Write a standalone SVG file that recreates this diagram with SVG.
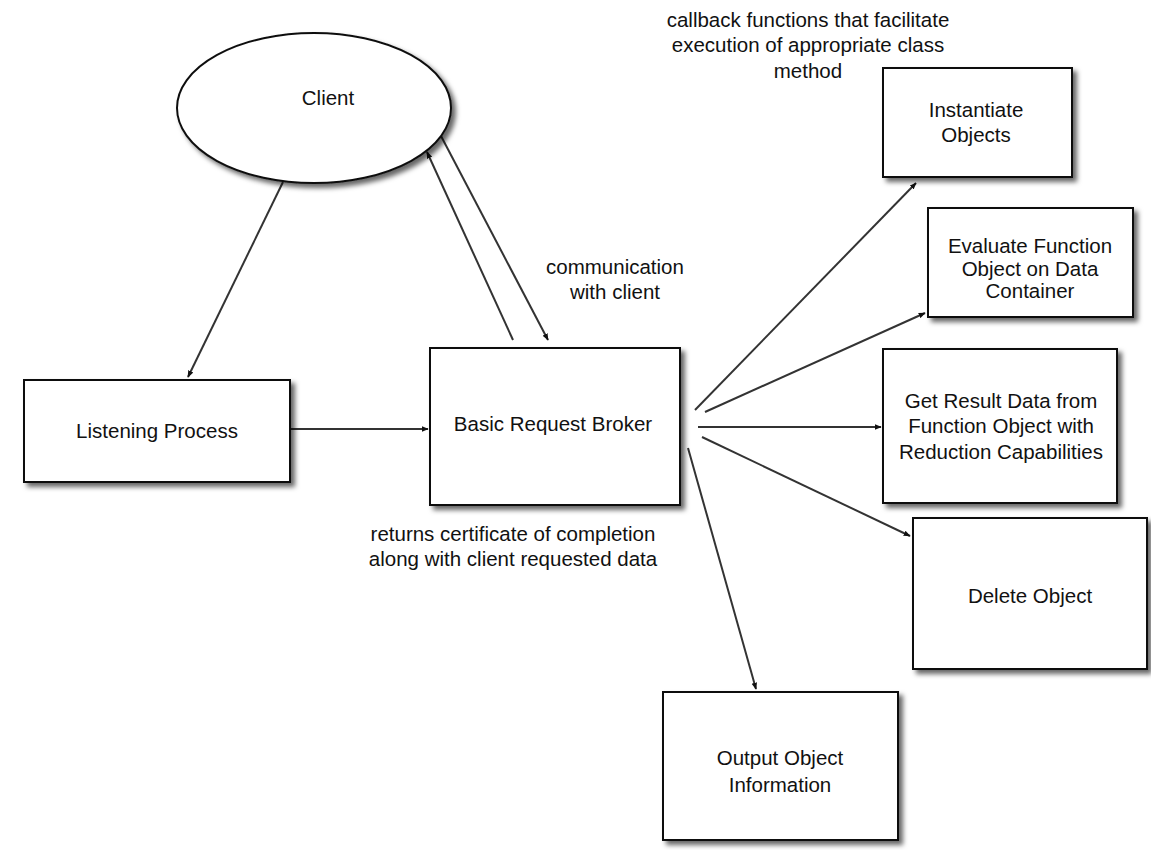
<svg xmlns="http://www.w3.org/2000/svg" width="1151" height="850" viewBox="0 0 1151 850">
<style>
  .node { fill: #ffffff; stroke: #111111; stroke-width: 2; }
  .txt { font-family: "Liberation Sans", Arial, sans-serif; font-size: 20.5px; fill: #111111; text-anchor: middle; }
  .conn { stroke: #333333; stroke-width: 2; fill: none; }
</style>
<defs>
  <filter id="shadow" x="-10%" y="-10%" width="130%" height="130%">
    <feDropShadow dx="4" dy="4" stdDeviation="2.5" flood-color="#000000" flood-opacity="0.6"/>
  </filter>
  <marker id="arrow" viewBox="0 0 10 10" refX="9" refY="5" markerWidth="7" markerHeight="7" orient="auto" markerUnits="userSpaceOnUse">
    <path d="M0,1 L10,5 L0,9 z" fill="#111111"/>
  </marker>
</defs>
<rect width="1151" height="850" fill="#ffffff"/>

<g id="connectors">
  <line class="conn" x1="283" y1="182" x2="188" y2="377" marker-end="url(#arrow)"/>
  <line class="conn" x1="513" y1="340" x2="427" y2="152" marker-end="url(#arrow)"/>
  <line class="conn" x1="441" y1="136" x2="548" y2="340" marker-end="url(#arrow)"/>
  <line class="conn" x1="290" y1="429" x2="428" y2="429" marker-end="url(#arrow)"/>
  <line class="conn" x1="695" y1="410" x2="916" y2="183" marker-end="url(#arrow)"/>
  <line class="conn" x1="705" y1="412" x2="925" y2="313" marker-end="url(#arrow)"/>
  <line class="conn" x1="698" y1="427" x2="881" y2="427" marker-end="url(#arrow)"/>
  <line class="conn" x1="702" y1="437" x2="910" y2="536" marker-end="url(#arrow)"/>
  <line class="conn" x1="688" y1="448" x2="756" y2="689" marker-end="url(#arrow)"/>
</g>

<g id="client">
  <ellipse class="node" cx="314" cy="108" rx="137" ry="75" stroke-width="2.5" filter="url(#shadow)"/>
  <text class="txt" x="328" y="105">Client</text>
</g>

<g id="listening-process">
  <rect class="node" x="24" y="380" width="266" height="102" filter="url(#shadow)"/>
  <text class="txt" x="157" y="438">Listening Process</text>
</g>

<g id="basic-request-broker">
  <rect class="node" x="430" y="348" width="250" height="157" filter="url(#shadow)"/>
  <text class="txt" x="553" y="431">Basic Request Broker</text>
</g>

<g id="instantiate-objects">
  <rect class="node" x="883" y="68" width="189" height="109" filter="url(#shadow)"/>
  <text class="txt" x="976" y="117">Instantiate</text>
  <text class="txt" x="976" y="142">Objects</text>
</g>

<g id="evaluate-function">
  <rect class="node" x="928" y="208" width="205" height="109" filter="url(#shadow)"/>
  <text class="txt" x="1030" y="253">Evaluate Function</text>
  <text class="txt" x="1030" y="276">Object on Data</text>
  <text class="txt" x="1030" y="298">Container</text>
</g>

<g id="get-result-data">
  <rect class="node" x="883" y="349" width="234" height="154" filter="url(#shadow)"/>
  <text class="txt" x="1001" y="408">Get Result Data from</text>
  <text class="txt" x="1001" y="433">Function Object with</text>
  <text class="txt" x="1001" y="459">Reduction Capabilities</text>
</g>

<g id="delete-object">
  <rect class="node" x="913" y="518" width="234" height="151" filter="url(#shadow)"/>
  <text class="txt" x="1030" y="603">Delete Object</text>
</g>

<g id="output-object-information">
  <rect class="node" x="663" y="692" width="235" height="148" filter="url(#shadow)"/>
  <text class="txt" x="780" y="765">Output Object</text>
  <text class="txt" x="780" y="792">Information</text>
</g>

<g id="labels">
  <text class="txt" x="808" y="27">callback functions that facilitate</text>
  <text class="txt" x="808" y="52">execution of appropriate class</text>
  <text class="txt" x="808" y="78">method</text>
  <text class="txt" x="615" y="274">communication</text>
  <text class="txt" x="615" y="299">with client</text>
  <text class="txt" x="513" y="541">returns certificate of completion</text>
  <text class="txt" x="513" y="566">along with client requested data</text>
</g>
</svg>
